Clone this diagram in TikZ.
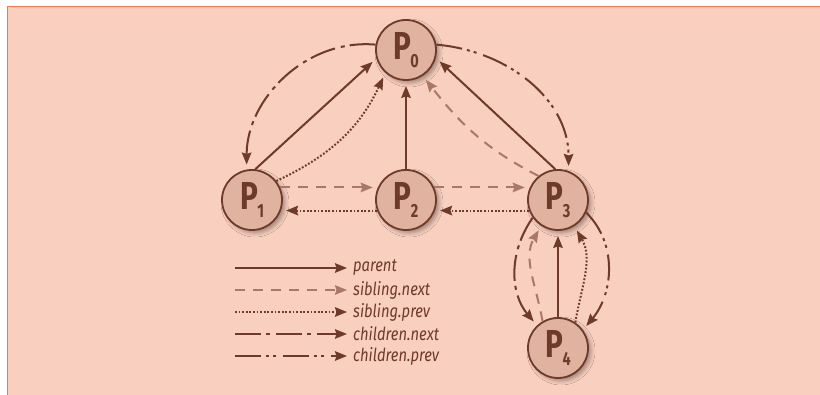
\documentclass[tikz,border=0pt]{standalone}
\usepackage{fontspec}
\setmainfont{Fira Sans}
\newfontfamily\procfont[FakeStretch=0.76]{Fira Sans}
\newfontfamily\legendfont[FakeStretch=0.82]{Fira Sans}
\usetikzlibrary{arrows.meta,shadows.blur}
\definecolor{bgpeach}{HTML}{F9CFBF}
\definecolor{borderorange}{HTML}{F07A4E}
\definecolor{darkbrown}{HTML}{6E3A2A}
\definecolor{lightbrown}{HTML}{A97868}
\definecolor{procfill}{HTML}{E0B2A0}
\newcommand\procname[1]{P\kern-0.5pt\raisebox{-8pt}{\fontsize{19}{19}\selectfont #1}}

\begin{document}
\begin{tikzpicture}[x=1pt,y=1pt,
        proc/.style={circle, draw=darkbrown, line width=1.8pt, fill=procfill,
          minimum size=60pt, inner sep=0pt, text=darkbrown,
          font=\procfont\bfseries\fontsize{39}{39}\selectfont,
          blur shadow={shadow xshift=3pt, shadow yshift=-3pt, shadow blur radius=4pt, shadow opacity=35}},
        link/.style={draw=darkbrown, line width=2pt, shorten >=5pt,
          -{Stealth[length=12pt,width=9.5pt,inset=1.5pt]}},
        parentln/.style={link},
        nextln/.style={link, draw=lightbrown, dash pattern=on 10pt off 8pt},
        prevln/.style={link, dash pattern=on 1.8pt off 1.8pt},
        childnextln/.style={link, dash pattern=on 26pt off 5pt on 4pt off 6pt},
        childprevln/.style={link, dash pattern=on 26pt off 5pt on 3pt off 4pt on 3pt off 7pt},
        legendtext/.style={anchor=west, inner sep=1pt, text=darkbrown,
          font=\legendfont\itshape\fontsize{18}{18}\selectfont}]
  \useasboundingbox (0,0) rectangle (820,395);
  \fill[bgpeach] (7.5,0) rectangle (820,388.5);
  \draw[borderorange, line width=1.5pt] (7.5,0) -- (7.5,388.5) -- (820,388.5);

  \node[proc] (P0) at (406,345) {\procname{0}};
  \node[proc] (P1) at (252,195) {\procname{1}};
  \node[proc] (P2) at (406,195) {\procname{2}};
  \node[proc] (P3) at (558,195) {\procname{3}};
  \node[proc] (P4) at (558,47) {\procname{4}};

  % parent
  \draw[parentln] (P1.84) -- (P0.196);
  \draw[parentln] (P2.north) -- (P0.south);
  \draw[parentln] (P3.95) -- (P0.-15);
  \draw[parentln] (P4.north) -- (P3.south);
  % sibling.next
  \draw[nextln] (P1.24) -- (P2.156);
  \draw[nextln] (P2.24) -- (P3.156);
  \draw[nextln] (P3.129) to[out=153,in=-52] (P0.-57);
  \draw[nextln] (P4.120) to[out=100,in=240] (P3.-123);
  % sibling.prev
  \draw[prevln] (P2.200) -- (P1.-20);
  \draw[prevln] (P3.200) -- (P2.-20);
  \draw[prevln] (P1.38) to[out=25,in=245] (P0.228);
  \draw[prevln] (P4.56) to[out=80,in=-60] (P3.-58);
  % children
  \draw[childnextln] (P0.170) to[out=175,in=90] (P1.100);
  \draw[childnextln] (P3.215) to[out=235,in=130] (P4.133);
  \draw[childprevln] (P0.10) to[out=-5,in=90] (P3.70);
  \draw[childprevln] (P3.-24) to[out=-45,in=50] (P4.36);

  % legend
  \node[legendtext] (lt1) at (352,127) {parent};
  \node[legendtext] (lt2) at (352,105) {sibling.next};
  \node[legendtext] (lt3) at (352,83) {sibling.prev};
  \node[legendtext] (lt4) at (352,61) {children.next};
  \node[legendtext] (lt5) at (352,39) {children.prev};
  \coordinate (ls1) at (235,127);
  \coordinate (ls2) at (235,105);
  \coordinate (ls3) at (235,83);
  \coordinate (ls4) at (235,61);
  \coordinate (ls5) at (235,39);
  \draw[parentln] (ls1) -- (lt1.west);
  \draw[nextln] (ls2) -- (lt2.west);
  \draw[prevln] (ls3) -- (lt3.west);
  \draw[childnextln] (ls4) -- (lt4.west);
  \draw[childprevln] (ls5) -- (lt5.west);
\end{tikzpicture}
\end{document}
